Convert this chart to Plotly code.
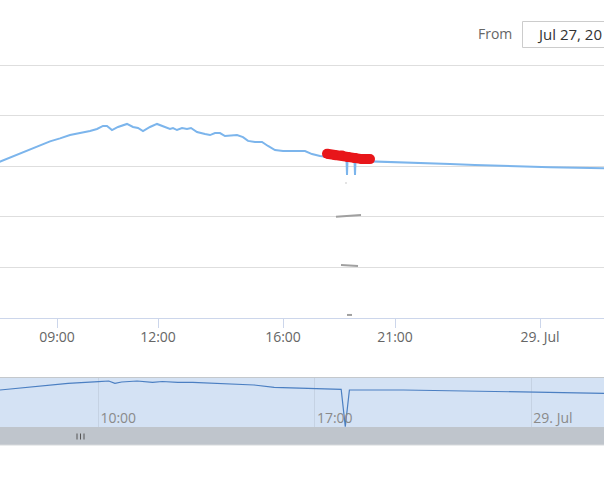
import plotly.graph_objects as go

W, H = 604, 482

# ---- main chart (ordinal axis: positions are point ordinals) ----
main_pos = [-5, 0, 15, 20, 30, 40, 50, 60, 70, 80, 87, 90, 97, 103, 107, 112, 118, 127, 133, 138, 143,
            150, 157, 165, 170, 173, 177, 182, 187, 191, 197, 205, 210, 215, 220, 225, 232, 237, 243,
            248, 255, 262, 268, 275, 283, 295, 305, 312, 320, 328, 335, 345, 346.5, 347, 347.5,
            354.5, 355, 355.5, 365, 373, 400, 425, 450, 475, 500, 525, 550, 575, 604, 610]
main_val = [61.0, 61.8, 64.4, 65.2, 66.8, 68.4, 69.8, 71.0, 72.3, 73.1, 73.5, 73.9, 74.7, 75.9, 75.9,
            74.3, 75.5, 76.7, 75.5, 75.1, 73.9, 75.5, 76.7, 75.5, 74.7, 75.1, 74.3, 75.1, 74.7, 75.1,
            73.5, 72.7, 72.3, 73.1, 73.1, 71.9, 72.3, 72.3, 71.5, 70.0, 69.6, 69.6, 68.0, 66.4, 66.0,
            66.0, 66.0, 64.8, 64.0, 63.6, 63.2, 62.6, 62.5, 56.5, 62.4, 62.2, 56.5, 62.1, 62.0, 61.8,
            61.4, 61.2, 60.9, 60.5, 60.1, 59.9, 59.6, 59.4, 59.2, 59.1]

red_pos = [327, 335, 342, 348, 355, 362, 370]
red_val = [64.9, 64.3, 64.2, 63.6, 63.2, 62.8, 62.8]

gray_pos = [336, 361, None, 341, 358, None, 347, 352]
gray_val = [40.0, 40.7, None, 20.9, 20.6, None, 1.2, 1.2]

faint_pos = [345, 347]
faint_val = [53.4, 53.4]

main_tick_pos = [57, 158, 283, 395, 540]
main_tick_text = ["09:00", "12:00", "16:00", "21:00", "29. Jul"]

# ---- navigator (time axis) ----
nav_time = ["2016-07-28 06:49", "2016-07-28 07:54", "2016-07-28 09:01", "2016-07-28 10:00",
            "2016-07-28 10:20", "2016-07-28 10:32", "2016-07-28 10:45", "2016-07-28 11:15",
            "2016-07-28 11:45", "2016-07-28 12:04", "2016-07-28 12:34", "2016-07-28 13:03",
            "2016-07-28 13:43", "2016-07-28 14:22", "2016-07-28 15:02", "2016-07-28 15:41",
            "2016-07-28 16:54", "2016-07-28 17:51", "2016-07-28 17:59", "2016-07-28 18:07",
            "2016-07-28 19:52", "2016-07-28 21:27", "2016-07-29 00:00", "2016-07-29 02:21"]
nav_val = [62.0, 67.1, 72.4, 74.9, 76.0, 72.4, 74.4, 76.0, 73.7, 75.2, 73.7, 73.7, 72.1, 71.3,
           69.8, 66.2, 65.1, 63.1, 5.0, 62.0, 62.0, 60.9, 59.4, 56.9]
nav_range = ["2016-07-28 06:49", "2016-07-29 02:21"]
nav_tick_time = ["2016-07-28 10:00", "2016-07-28 17:00", "2016-07-29 00:00"]
nav_tick_text = ["10:00", "17:00", "29. Jul"]

from_label = "From"
from_value = "Jul 27, 20"

FONT = "Open Sans"


def py(p):
    return (H - p) / H


def px(p):
    return p / W


fig = go.Figure()

fig.add_trace(go.Scatter(x=main_pos, y=main_val, mode="lines",
                         line=dict(color="#7cb5ec", width=2), xaxis="x", yaxis="y",
                         hoverinfo="skip"))
fig.add_trace(go.Scatter(x=faint_pos, y=faint_val, mode="lines",
                         line=dict(color="#e4e4e4", width=2), xaxis="x", yaxis="y",
                         hoverinfo="skip"))
fig.add_trace(go.Scatter(x=gray_pos, y=gray_val, mode="lines", connectgaps=False,
                         line=dict(color="#a0a0a0", width=2), xaxis="x", yaxis="y",
                         hoverinfo="skip"))
fig.add_trace(go.Scatter(x=red_pos, y=red_val, mode="lines+markers",
                         line=dict(color="#e8161a", width=10),
                         marker=dict(color="#e8161a", size=10),
                         xaxis="x", yaxis="y", hoverinfo="skip"))
fig.add_trace(go.Scatter(x=nav_time, y=nav_val, mode="lines",
                         line=dict(color="#4b7fc2", width=1.2), xaxis="x2", yaxis="y2",
                         hoverinfo="skip"))

shapes = [
    # navigator background
    dict(type="rect", xref="paper", yref="paper", x0=0, x1=1, y0=py(427), y1=py(377),
         fillcolor="#d4e2f4", line=dict(width=0), layer="below"),
    # navigator top border
    dict(type="line", xref="paper", yref="paper", x0=0, x1=1, y0=py(377.5), y1=py(377.5),
         line=dict(color="#c4c8cc", width=1)),
    # scrollbar
    dict(type="rect", xref="paper", yref="paper", x0=0, x1=1, y0=py(445), y1=py(427),
         fillcolor="#bfc5cc", line=dict(width=0)),
    dict(type="line", xref="paper", yref="paper", x0=0, x1=1, y0=py(445), y1=py(445),
         line=dict(color="#d6d9dc", width=1)),
    # input box
    dict(type="rect", xref="paper", yref="paper", x0=px(522.5), x1=px(660), y0=py(47.5), y1=py(21.5),
         fillcolor="white", line=dict(color="#cccccc", width=1)),
]
for rx in (77, 80.5, 84):
    shapes.append(dict(type="line", xref="paper", yref="paper", x0=px(rx), x1=px(rx),
                       y0=py(439.5), y1=py(433.5), line=dict(color="#555555", width=1)))

annotations = [
    dict(text=from_label, xref="paper", yref="paper", x=px(476), y=py(34), xanchor="left",
         yanchor="middle", showarrow=False, font=dict(family=FONT, size=14, color="#666666")),
    dict(text=from_value, xref="paper", yref="paper", x=px(535), y=py(34), xanchor="left",
         yanchor="middle", showarrow=False, font=dict(family=FONT, size=15, color="#333333")),
]

fig.update_layout(
    template="none",
    width=W, height=H,
    margin=dict(l=0, r=0, t=0, b=0, pad=0),
    paper_bgcolor="white", plot_bgcolor="rgba(0,0,0,0)",
    showlegend=False,
    font=dict(family=FONT),
    xaxis=dict(domain=[0, 1], range=[0, 604], anchor="y", showgrid=False, zeroline=False,
               showline=True, linecolor="#ccd6eb", linewidth=1,
               ticks="outside", ticklen=9, tickcolor="#ccd6eb", tickwidth=1,
               ticklabelstandoff=-3,
               tickmode="array", tickvals=main_tick_pos, ticktext=main_tick_text,
               tickfont=dict(family=FONT, size=14, color="#666666"), automargin=False),
    yaxis=dict(domain=[py(318), py(65 - 2.53)], range=[0, 101], anchor="x", showgrid=True,
               gridcolor="#dedede", gridwidth=1, dtick=20, tick0=0, zeroline=False,
               showticklabels=False, showline=False, ticks="", automargin=False),
    xaxis2=dict(domain=[0, 1], range=nav_range, type="date", anchor="y2", showgrid=True,
                gridcolor="#c5d2e3", gridwidth=1, zeroline=False, showline=False, ticks="",
                tickmode="array", tickvals=nav_tick_time, ticktext=nav_tick_text,
                ticklabelposition="inside right", ticklabelstandoff=-5, ticklabelshift=2,
                tickfont=dict(family=FONT, size=14, color="#8a8a8a"), automargin=False),
    yaxis2=dict(domain=[py(427), py(377)], range=[4.5, 82.2], anchor="x2", showgrid=False,
                zeroline=False, showticklabels=False, showline=False, ticks="",
                automargin=False),
    shapes=shapes,
    annotations=annotations,
)

fig.write_html("out.html", config={"displayModeBar": False},
               post_script="document.body.style.margin='0px';")
